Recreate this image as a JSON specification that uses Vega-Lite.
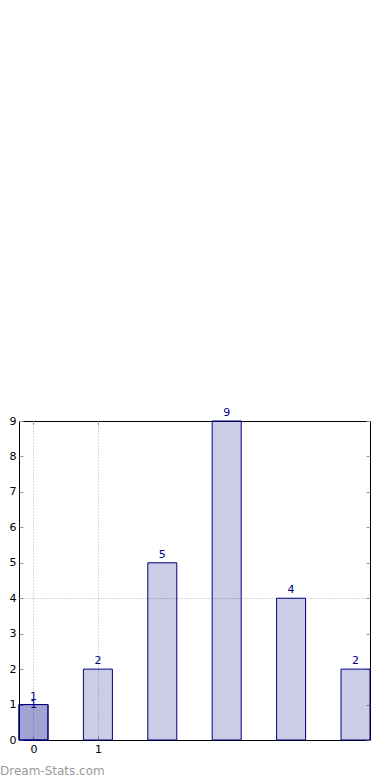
{
  "$schema": "https://vega.github.io/schema/vega-lite/v6.json",
  "width": 351,
  "height": 319,
  "autosize": {"type": "none"},
  "padding": {"left": 19, "top": 421, "right": 20, "bottom": 40},
  "background": "white",
  "config": {
    "font": "DejaVu Sans",
    "view": {"stroke": "black", "strokeWidth": 1},
    "axis": {"domain": false, "labelFont": "DejaVu Sans", "labelFontSize": 11, "labelColor": "black", "tickColor": "#999999", "tickSize": -4, "labelPadding": 7, "gridColor": "#b0b0b0", "gridDash": [1, 2], "gridWidth": 1}
  },
  "title": {"text": "Dream-Stats.com", "orient": "bottom", "anchor": "start", "frame": "group", "dx": -19, "offset": 12, "color": "#9a9a9a", "fontSize": 12, "fontWeight": "normal", "font": "DejaVu Sans"},
  "data": {"values": [
    {"series": "A", "idx": 0, "count": 1},
    {"series": "A", "idx": 1, "count": 2},
    {"series": "A", "idx": 2, "count": 5},
    {"series": "A", "idx": 3, "count": 9},
    {"series": "A", "idx": 4, "count": 4},
    {"series": "A", "idx": 5, "count": 2},
    {"series": "B", "idx": 0, "count": 1}
  ]},
  "resolve": {"axis": {"x": "independent", "y": "independent"}},
  "layer": [
    {
      "transform": [{"filter": "datum.series === 'A'"}],
      "mark": {"type": "bar", "width": 29, "fill": "#000080", "fillOpacity": 0.2, "stroke": "#000080", "strokeWidth": 1},
      "encoding": {
        "x": {"field": "idx", "type": "quantitative", "scale": {"domain": [-0.225, 5.225], "nice": false, "zero": false, "padding": 0}, "axis": {"orient": "bottom", "values": [0, 1], "grid": true, "title": null, "format": "d"}},
        "y": {"field": "count", "type": "quantitative", "scale": {"domain": [0, 9], "nice": false, "padding": 0}, "axis": {"orient": "left", "values": [0, 1, 2, 3, 4, 5, 6, 7, 8, 9], "grid": true, "gridOpacity": {"condition": {"test": "datum.value === 4", "value": 1}, "value": 0}, "title": null, "format": "d"}}
      }
    },
    {
      "transform": [{"filter": "datum.series === 'B'"}],
      "mark": {"type": "bar", "width": 29, "fill": "#000080", "fillOpacity": 0.2, "stroke": "#000080", "strokeWidth": 1},
      "encoding": {
        "x": {"field": "idx", "type": "quantitative", "scale": {"domain": [-0.225, 5.225], "nice": false, "zero": false, "padding": 0}, "axis": {"orient": "top", "values": [0, 1], "labels": false, "grid": false, "title": null}},
        "y": {"field": "count", "type": "quantitative", "scale": {"domain": [0, 9], "nice": false, "padding": 0}, "axis": {"orient": "right", "values": [0, 1, 2, 3, 4, 5, 6, 7, 8, 9], "labels": false, "grid": false, "title": null}}
      }
    },
    {
      "transform": [{"filter": "datum.series === 'A'"}],
      "mark": {"type": "text", "baseline": "alphabetic", "align": "center", "dy": -5, "color": "#000080", "fontSize": 11, "font": "DejaVu Sans"},
      "encoding": {
        "x": {"field": "idx", "type": "quantitative", "scale": {"domain": [-0.225, 5.225], "nice": false, "zero": false, "padding": 0}, "axis": null},
        "y": {"field": "count", "type": "quantitative", "scale": {"domain": [0, 9], "nice": false, "padding": 0}, "axis": null},
        "text": {"field": "count", "type": "quantitative"}
      }
    },
    {
      "transform": [{"filter": "datum.series === 'B'"}],
      "mark": {"type": "text", "baseline": "alphabetic", "align": "center", "dy": 3, "color": "#000080", "fontSize": 11, "font": "DejaVu Sans"},
      "encoding": {
        "x": {"field": "idx", "type": "quantitative", "scale": {"domain": [-0.225, 5.225], "nice": false, "zero": false, "padding": 0}, "axis": null},
        "y": {"field": "count", "type": "quantitative", "scale": {"domain": [0, 9], "nice": false, "padding": 0}, "axis": null},
        "text": {"field": "count", "type": "quantitative"}
      }
    }
  ]
}
